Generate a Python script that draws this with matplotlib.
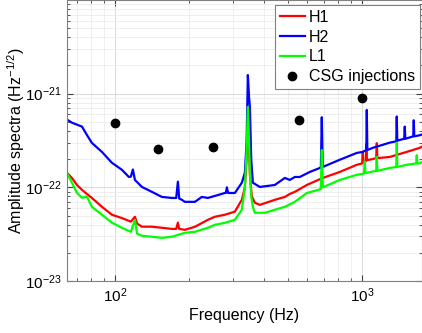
import matplotlib
matplotlib.use("Agg")
import matplotlib.pyplot as plt
from matplotlib.ticker import LogLocator, NullFormatter, FixedLocator

# frequencies (Hz) and amplitude spectra (units of 1e-22 Hz^-1/2)
h1_freq = [63.9, 67.0, 70.2, 73.6, 77.0, 80.7, 88.6, 97.2, 106.7, 116, 120.5, 123,
           128.6, 141.1, 154.9, 170.1, 177, 179.8, 182, 191.9, 210.6, 237.7, 253.7,
           278.5, 305.7, 326.2, 335.5, 341, 345, 349, 351.6, 358, 368.4, 385.8, 443.6,
           487, 510, 534.5, 597.6, 693.6, 812.5, 951.9, 1000, 1006.5, 1012, 1035, 1040,
           1046, 1100, 1140, 1146.6, 1153, 1294, 1516, 1712, 1739]
h1_amp = [1.43, 1.26, 1.06, 0.94, 0.85, 0.77, 0.62, 0.51, 0.47, 0.43, 0.485, 0.41,
          0.38, 0.38, 0.37, 0.36, 0.36, 0.42, 0.36, 0.352, 0.379, 0.45, 0.485,
          0.51, 0.55, 0.736, 1.0, 2.0, 7.0, 2.5, 1.36, 0.8, 0.684, 0.65, 0.736,
          0.79, 0.85, 0.895, 1.06, 1.26, 1.46, 1.74, 1.8, 2.4, 1.85, 1.9, 2.9,
          1.95, 2.0, 2.05, 2.96, 2.05, 2.11, 2.39, 2.64, 2.7]

h2_freq = [63.9, 67.0, 73.6, 77.0, 80.7, 88.6, 97.2, 106.7, 113.9, 116, 118.2, 120.5,
           128.6, 141.1, 154.9, 170.1, 177, 179.8, 182, 186.6, 191.9, 210.6, 224.8,
           237.7, 278.5, 281, 283.8, 287, 305.7, 326.2, 335.5, 341, 345, 349, 351.6,
           356, 361.4, 385.8, 443.6, 487, 510, 534.5, 559.8, 614.5, 674.6, 681, 687,
           693, 812.5, 951.9, 1006.5, 1040, 1044.7, 1050, 1104.7, 1294, 1375, 1381,
           1388, 1480, 1488, 1496, 1610, 1618, 1626, 1712, 1739]
h2_amp = [5.3, 4.9, 4.45, 3.63, 2.98, 2.39, 1.83, 1.54, 1.29, 1.3, 1.55, 1.2,
          1.01, 0.895, 0.79, 0.77, 0.77, 1.15, 0.76, 0.736, 0.70, 0.70, 0.79,
          0.77, 0.87, 0.87, 1.0, 0.87, 0.87, 1.12, 1.43, 3.0, 15.8, 9.0, 7.2,
          2.0, 1.12, 1.01, 1.06, 1.26, 1.2, 1.29, 1.29, 1.46, 1.61, 1.62, 5.6,
          1.65, 1.97, 2.33, 2.39, 2.5, 6.7, 2.5, 2.64, 3.0, 3.1, 5.7,
          3.15, 3.3, 4.45, 3.3, 3.5, 5.2, 3.5, 3.6, 3.65]

l1_freq = [63.9, 67.0, 70.2, 73.6, 77.0, 80.7, 88.6, 97.2, 106.7, 116, 120.5, 123,
           128.6, 141.1, 154.9, 170.1, 191.9, 210.6, 237.7, 253.7, 278.5, 305.7,
           326.2, 335.5, 341, 345, 349, 351.6, 356, 361.4, 368.4, 404.2, 443.6, 487,
           534.5, 597.6, 674.6, 681, 687, 693.6, 812.5, 951.9, 1018, 1025, 1032,
           1140, 1146, 1153, 1294, 1375, 1381, 1388, 1516, 1657, 1664, 1671, 1712, 1739]
l1_amp = [1.43, 1.12, 0.874, 0.773, 0.8, 0.62, 0.51, 0.42, 0.37, 0.335, 0.45, 0.32,
          0.304, 0.297, 0.289, 0.297, 0.327, 0.335, 0.37, 0.398, 0.418, 0.45,
          0.576, 1.0, 2.5, 7.2, 3.0, 1.5, 0.8, 0.62, 0.535, 0.535, 0.576, 0.62,
          0.70, 0.87, 0.95, 0.96, 2.5, 1.0, 1.2, 1.36, 1.4, 1.89, 1.42,
          1.5, 2.12, 1.5, 1.61, 1.65, 3.0, 1.65, 1.74, 1.8, 2.2, 1.8, 1.8, 1.85]

csg_freq = [100, 150, 250, 554, 1000]
csg_amp = [4.9, 2.55, 2.72, 5.2, 9.0]

scale = 1e-22

plt.rcParams["font.family"] = ["Liberation Sans", "DejaVu Sans"]
plt.rcParams["mathtext.fontset"] = "custom"
plt.rcParams["mathtext.rm"] = "Liberation Sans"
plt.rcParams["mathtext.it"] = "Liberation Sans"

fig = plt.figure(figsize=(4.22, 3.33), dpi=100)
ax = fig.add_axes([67 / 422, 52 / 333, 354.5 / 422, 281 / 333])

ax.plot(h1_freq, [v * scale for v in h1_amp], color="#ff0000", lw=1.6, label="H1")
ax.plot(h2_freq, [v * scale for v in h2_amp], color="#0000ff", lw=1.6, label="H2")
ax.plot(l1_freq, [v * scale for v in l1_amp], color="#00ff00", lw=1.6, label="L1")
ax.plot(csg_freq, [v * scale for v in csg_amp], "o", color="black", ms=6,
        label="CSG injections")

ax.set_xscale("log")
ax.set_yscale("log")
ax.set_xlim(64, 1739)
ax.set_ylim(1e-23, 1e-20)

ax.xaxis.set_major_locator(FixedLocator([1e2, 1e3]))
ax.xaxis.set_minor_locator(LogLocator(base=10, subs=range(2, 10)))
ax.xaxis.set_minor_formatter(NullFormatter())
ax.yaxis.set_major_locator(FixedLocator([1e-23, 1e-22, 1e-21]))
ax.yaxis.set_minor_locator(LogLocator(base=10, subs=range(2, 10)))
ax.yaxis.set_minor_formatter(NullFormatter())

ax.grid(True, which="major", color="#dcdcdc", lw=0.8)
ax.grid(True, which="minor", color="#ececec", lw=0.6)
ax.set_axisbelow(True)

ax.tick_params(which="both", direction="in", colors="#404040", labelcolor="black",
               labelsize=11, top=True, right=True)
ax.tick_params(which="major", length=4, pad=4)
ax.tick_params(which="minor", length=2)
for s in ax.spines.values():
    s.set_color("#808080")
    s.set_linewidth(0.8)

ax.set_xlabel("Frequency (Hz)", fontsize=11.5, labelpad=2)
ax.set_ylabel("Amplitude spectra (Hz$^{-1/2}$)", fontsize=11.5)
ax.yaxis.set_label_coords(-0.113, 0.5)

leg = ax.legend(loc="upper right", bbox_to_anchor=(0.996, 0.982), borderaxespad=0,
                fancybox=False, framealpha=1, edgecolor="#808080", fontsize=11.5,
                handlelength=1.6, handletextpad=0.25, labelspacing=0.3,
                borderpad=0.3)
leg.get_frame().set_linewidth(0.8)

plt.savefig("out.png", dpi=100)
